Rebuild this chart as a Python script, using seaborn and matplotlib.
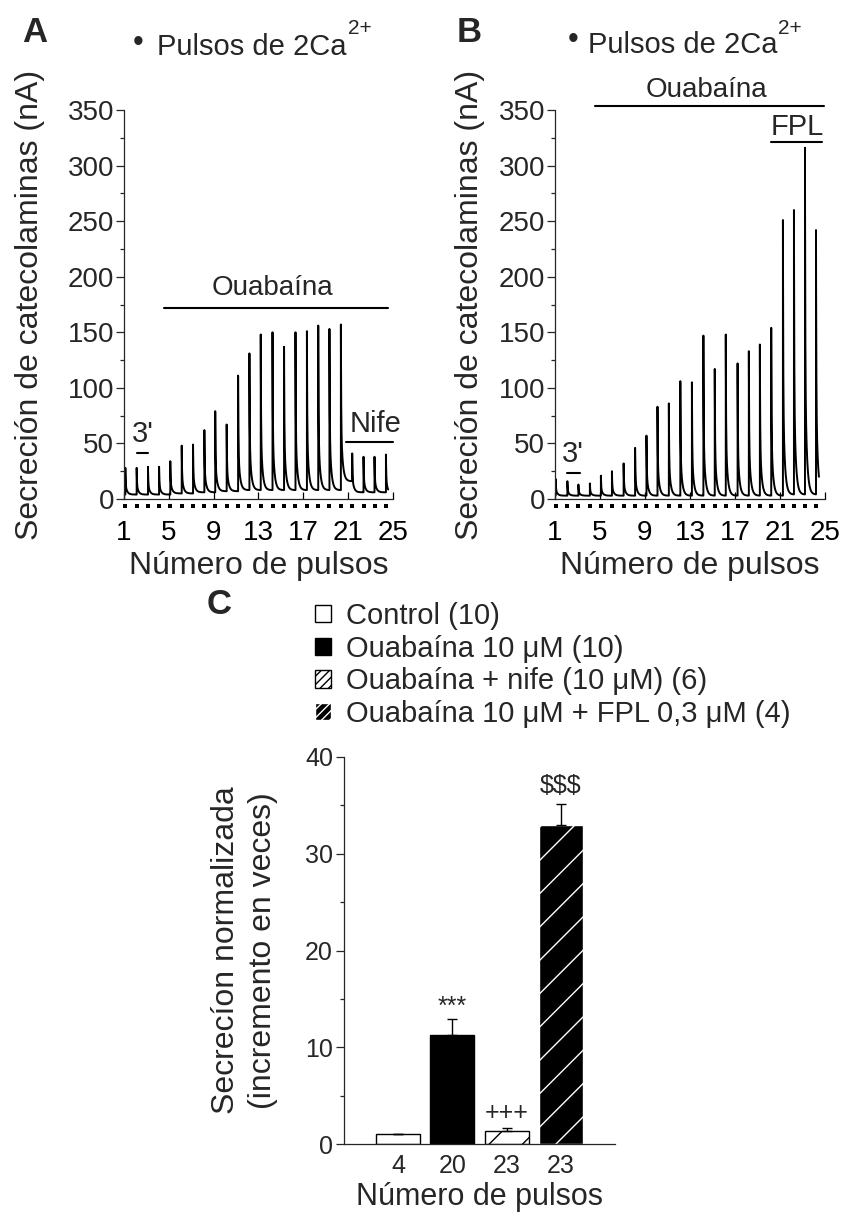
import numpy as np
import pandas as pd
import matplotlib
matplotlib.use("Agg")
import matplotlib.pyplot as plt
from matplotlib.ticker import MultipleLocator
from matplotlib.patches import Patch
import seaborn as sns

# ---------------- data ----------------
pulse_numbers = list(range(1, 25))
# pulse times (in pulse-number units)
pulse_x_A = [1.12, 2.13, 3.14, 4.13, 5.13, 6.15, 7.16, 8.17, 9.14, 10.16, 11.18, 12.19,
             13.20, 14.25, 15.28, 16.30, 17.32, 18.33, 19.33, 20.35, 21.36, 22.37, 23.35, 24.37]
peaks_A = [28, 28, 29, 29, 34, 48, 49, 62, 79, 67, 111, 131,
           148, 150, 137, 150, 151, 156, 153, 157, 41, 38, 38, 40]
base_A = [4, 4, 4, 4, 5, 5, 6, 6, 7, 7, 8, 8,
          8, 8, 8, 8, 8, 8, 8, 16, 6, 6, 6, 5]

pulse_x_B = [1.06, 2.10, 3.08, 4.10, 5.08, 6.06, 7.10, 8.12, 9.13, 10.11, 11.12, 12.14,
             13.17, 14.19, 15.20, 16.18, 17.23, 18.23, 19.21, 20.22, 21.26, 22.24, 23.22, 24.20]
peaks_B = [18, 16, 13, 14, 21, 25, 32, 46, 57, 83, 86, 106,
           105, 147, 117, 148, 122, 133, 139, 154, 251, 260, 316, 242]
base_B = [3, 3, 3, 3, 3, 3, 3, 3, 3, 3, 3, 3,
          3, 3, 3, 3, 3, 3, 3, 3, 4, 4, 4, 4]

groups_C = ["Control (10)", "Ouabaína 10 μM (10)",
            "Ouabaína + nife (10 μM) (6)", "Ouabaína 10 μM + FPL 0,3 μM (4)"]
pulse_labels_C = ["4", "20", "23", "23"]
means_C = [1.0, 11.3, 1.35, 33.0]
sem_C = [0.0, 1.6, 0.3, 2.1]
signif_C = ["", "***", "+++", "$$$"]

# ---------------- style ----------------
sns.set_theme(style="ticks")
plt.rcParams["font.family"] = ["Liberation Sans", "DejaVu Sans"]
plt.rcParams["hatch.linewidth"] = 1.0
plt.rcParams["axes.linewidth"] = 0.9

W, H = 844, 1214
fig = plt.figure(figsize=(W / 100, H / 100), dpi=100)


def fx(px):
    return px / W


def fy(py):
    return 1 - py / H


axA = fig.add_axes([fx(124), fy(499), 269 / W, 389 / H])
axB = fig.add_axes([fx(555), fy(499), 270 / W, 389 / H])
axC = fig.add_axes([fx(344), fy(1144), 271 / W, 387 / H])


def build_trace(px, peaks, bases, t0, t1):
    ts, ys = [t0], [bases[0]]
    for i, (x, p, b) in enumerate(zip(px, peaks, bases)):
        nxt = px[i + 1] if i + 1 < len(px) else t1
        ts.append(x)
        ys.append(ys[-1])
        dt = np.linspace(0, nxt - x, 160)
        shape = 0.62 * np.exp(-dt / 0.025) + 0.38 * np.exp(-dt / 0.15)
        ts.extend(list(x + dt))
        ys.extend(list(b + (p - b) * shape))
    return pd.DataFrame({"t": ts, "y": ys})


def style_trace_axes(ax):
    ax.set_xlim(1, 25)
    ax.set_ylim(0, 350)
    ax.set_xticks([1, 5, 9, 13, 17, 21, 25])
    ax.set_yticks(range(0, 351, 50))
    ax.yaxis.set_minor_locator(MultipleLocator(25))
    ax.tick_params(axis="x", direction="in", length=5, width=0.9, pad=15,
                   labelsize=20, colors="black")
    ax.tick_params(axis="y", which="major", direction="out", length=6, width=0.9,
                   pad=1, labelsize=20)
    ax.tick_params(axis="y", which="minor", direction="out", length=3, width=0.9)
    ax.set_xlabel("Número de pulsos", fontsize=23, labelpad=4)
    ax.set_ylabel("Secreción de catecolaminas (nA)", fontsize=23)
    sns.despine(ax=ax)
    ax.set_facecolor("white")


for ax, px, pk, bs, tend in [(axA, pulse_x_A, peaks_A, base_A, 24.57),
                             (axB, pulse_x_B, peaks_B, base_B, 24.46)]:
    df = build_trace(px, pk, bs, 1.0, tend)
    sns.lineplot(data=df, x="t", y="y", sort=False, estimator=None,
                 color="black", linewidth=1.4, ax=ax)
    sns.scatterplot(x=px, y=[-6.5] * len(px), marker="s", s=7, color="black",
                    linewidth=0, clip_on=False, ax=ax, zorder=5)
    style_trace_axes(ax)

axA.yaxis.set_label_coords((45 - 124) / 269, 0.5)
axB.yaxis.set_label_coords((485 - 555) / 270, 0.5)

# annotations panel A
axA.plot([4.57, 24.57], [172, 172], color="black", lw=1.5, clip_on=False)
axA.text(14.2, 183.6, "Ouabaína", fontsize=20, ha="center", va="baseline")
axA.plot([2.16, 3.14], [41, 41], color="black", lw=1.5)
axA.text(2.7, 51.3, "3'", fontsize=21, ha="center", va="baseline")
axA.plot([20.8, 25.0], [51, 51], color="black", lw=1.5, clip_on=False)
axA.text(23.4, 60.3, "Nife", fontsize=21, ha="center", va="baseline")

# annotations panel B
axB.plot([4.57, 24.9], [354, 354], color="black", lw=1.5, clip_on=False)
axB.text(14.5, 361.8, "Ouabaína", fontsize=20, ha="center", va="baseline")
axB.plot([20.2, 24.75], [321, 321], color="black", lw=1.5, clip_on=False)
axB.text(22.5, 327.6, "FPL", fontsize=21, ha="center", va="baseline")
axB.plot([2.07, 3.23], [23, 23], color="black", lw=1.5)
axB.text(2.6, 33.3, "3'", fontsize=21, ha="center", va="baseline")

# headers
fig.text(fx(35), fy(33), "A", fontsize=25, fontweight="bold", ha="center", va="center")
fig.text(fx(469), fy(33), "B", fontsize=25, fontweight="bold", ha="center", va="center")
fig.text(fx(219), fy(605), "C", fontsize=25, fontweight="bold", ha="center", va="center")
for bx, by, tx, tby, sx in [(138, 43, 157, 55, 348), (573, 40, 588, 53, 778)]:
    fig.text(fx(bx), fy(by), "•", fontsize=22, ha="center", va="center")
    fig.text(fx(tx), fy(tby), "Pulsos de 2Ca", fontsize=21, ha="left", va="baseline")
    fig.text(fx(sx), fy(34), "2+", fontsize=15, ha="left", va="baseline")

# ---------------- panel C ----------------
dfC = pd.DataFrame({"group": groups_C, "value": means_C})
sns.barplot(data=dfC, x="group", y="value", hue="group",
            palette=["white", "black", "white", "black"], edgecolor="black",
            linewidth=1, width=0.81, legend=False, errorbar=None, ax=axC)
bars = axC.patches
bars[2].set_hatch("/")
bars[3].set_hatch("/")
bars[3].set_edgecolor("white")
axC.errorbar(x=range(len(means_C)), y=means_C,
             yerr=[np.zeros(len(sem_C)), sem_C], fmt="none", ecolor="black",
             elinewidth=1, capsize=3.5, capthick=1, zorder=3)
for i, lab in enumerate(signif_C):
    if not lab:
        continue
    yb = {"***": 13.5, "+++": 2.5, "$$$": 36.3}[lab]
    axC.text(i, yb, lab, fontsize=18, ha="center", va="baseline")

axC.set_xlim(-1, 4)
axC.set_ylim(0, 40)
axC.set_xticks(range(4), pulse_labels_C)
axC.set_yticks(range(0, 41, 10))
axC.yaxis.set_minor_locator(MultipleLocator(5))
axC.tick_params(axis="x", length=0, pad=7, labelsize=18)
axC.tick_params(axis="y", which="major", direction="out", length=6, width=0.9,
                pad=2, labelsize=18)
axC.tick_params(axis="y", which="minor", direction="out", length=3, width=0.9)
axC.set_xlabel("Número de pulsos", fontsize=22, labelpad=3)
axC.set_ylabel("Secrecíon normalizada\n(incremento en veces)", fontsize=23,
               linespacing=1.3)
axC.yaxis.set_label_coords((278 - 344) / 271, 0.5)
sns.despine(ax=axC)

handles = [Patch(facecolor="white", edgecolor="black", linewidth=1),
           Patch(facecolor="black", edgecolor="black", linewidth=1),
           Patch(facecolor="white", edgecolor="black", linewidth=1, hatch="////"),
           Patch(facecolor="black", edgecolor="white", linewidth=1, hatch="////")]
fig.legend(handles, groups_C, loc="upper left", bbox_to_anchor=(fx(315), fy(602)),
           frameon=False, fontsize=21, handlelength=0.55, handleheight=0.55,
           handletextpad=0.5, labelspacing=0.16, borderpad=0, borderaxespad=0)

fig.savefig("out.png", dpi=100)
